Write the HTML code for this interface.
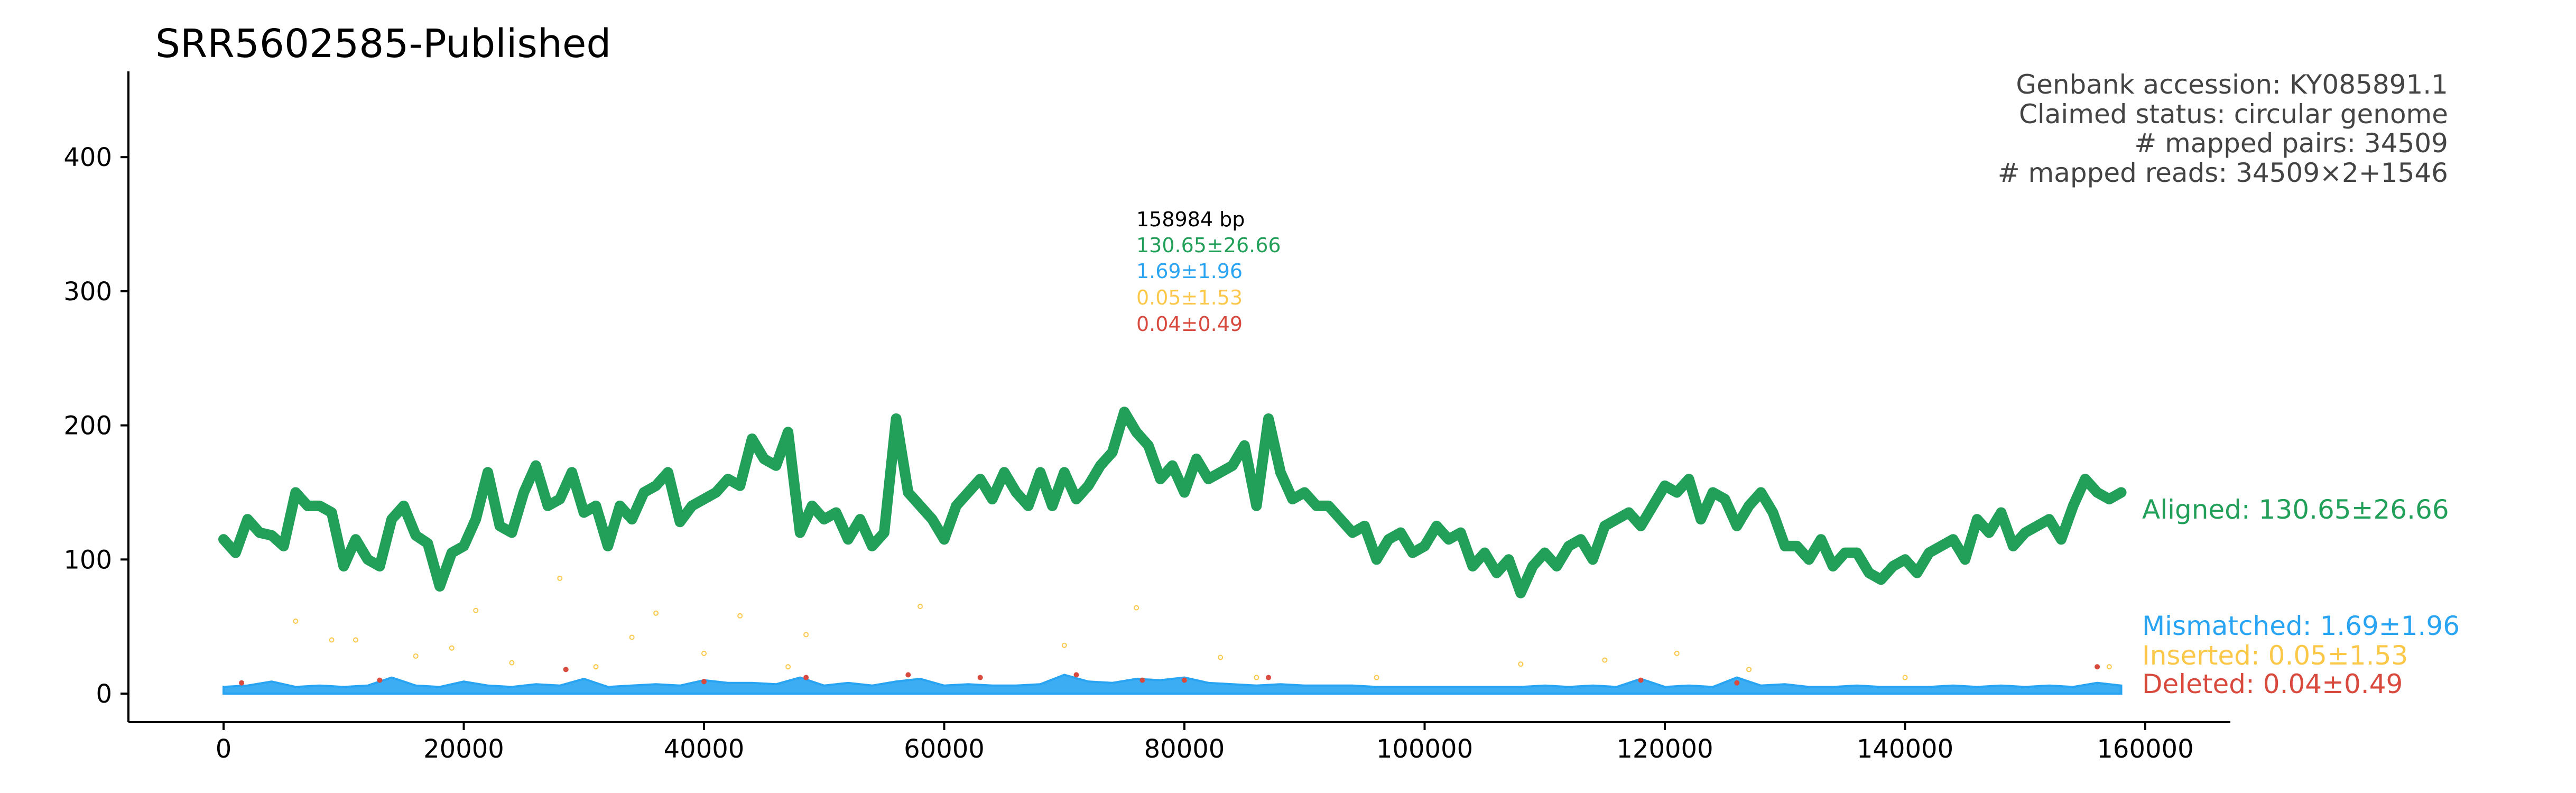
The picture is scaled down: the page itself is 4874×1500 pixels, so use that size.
<!DOCTYPE html>
<html><head><meta charset="utf-8"><style>
html,body{margin:0;padding:0;background:#fff;}
svg{display:block;font-family:"DejaVu Sans","Liberation Sans",sans-serif;}
</style></head><body>
<svg id="chart" width="4874" height="1500" viewBox="0 0 4874 1500" xmlns="http://www.w3.org/2000/svg">
<text x="294" y="108" font-size="74" fill="#000">SRR5602585-Published</text>
<g font-size="50" fill="#444" text-anchor="end">
<text x="4632" y="177">Genbank accession: KY085891.1</text>
<text x="4632" y="233">Claimed status: circular genome</text>
<text x="4632" y="288"># mapped pairs: 34509</text>
<text x="4632" y="344"># mapped reads: 34509×2+1546</text>
</g>
<g font-size="38">
<text x="2150" y="428" fill="#000">158984 bp</text>
<text x="2150" y="477" fill="#22a05a">130.65±26.66</text>
<text x="2150" y="526" fill="#28a4f2">1.69±1.96</text>
<text x="2150" y="576" fill="#fbc84a">0.05±1.53</text>
<text x="2150" y="626" fill="#d94a3e">0.04±0.49</text>
</g>
<g id="axes"></g>
<g id="marks"></g>
<g font-size="50">
<text x="4053" y="981" fill="#22a05a">Aligned: 130.65±26.66</text>
<text x="4053" y="1201" fill="#28a4f2">Mismatched: 1.69±1.96</text>
<text x="4053" y="1257" fill="#fbc84a">Inserted: 0.05±1.53</text>
<text x="4053" y="1311" fill="#d94a3e">Deleted: 0.04±0.49</text>
</g>
</svg>
<script>
const alignedStep = 1000;
const aligned = [115,105,130,120,118,110,150,140,140,135,95,115,100,95,130,140,118,112,80,105,110,130,165,125,120,150,170,140,145,165,135,140,110,140,130,150,155,165,128,140,145,150,160,155,190,175,170,195,120,140,130,135,115,130,110,120,205,150,140,130,115,140,150,160,145,165,150,140,165,140,165,145,155,170,180,210,195,185,160,170,150,175,160,165,170,185,140,205,165,145,150,140,140,130,120,125,100,115,120,105,110,125,115,120,95,105,90,100,75,95,105,95,110,115,100,125,130,135,125,140,155,150,160,130,150,145,125,140,150,135,110,110,100,115,95,105,105,90,85,95,100,90,105,110,115,100,130,120,135,110,120,125,130,115,140,160,150,145,150];
const mismatchStep = 2000;
const mismatched = [5,6,9,5,6,5,6,12,6,5,9,6,5,7,6,11,5,6,7,6,10,8,8,7,12,6,8,6,9,11,6,7,6,6,7,14,9,8,11,10,12,8,7,6,7,6,6,6,5,5,5,5,5,5,5,6,5,6,5,11,5,6,5,12,6,7,5,5,6,5,5,5,6,5,6,5,6,5,8,6];
const insertedX = [6000,9000,11000,16000,19000,21000,24000,28000,31000,34000,36000,40000,43000,47000,48500,58000,70000,76000,83000,86000,96000,108000,115000,121000,127000,140000,157000];
const insertedY = [54,40,40,28,34,62,23,86,20,42,60,30,58,20,44,65,36,64,27,12,12,22,25,30,18,12,20];
const deletedX = [1500,13000,28500,40000,48500,57000,63000,71000,76500,80000,87000,118000,126000,156000];
const deletedY = [8,10,18,9,12,14,12,14,10,10,12,10,8,20];
const xTicks = [0,20000,40000,60000,80000,100000,120000,140000,160000];
const yTicks = [0,100,200,300,400];

const NS='http://www.w3.org/2000/svg';
const xs = v => 423 + v*0.022725;
const ys = v => 1312 - v*2.537;
const axes=document.getElementById('axes'), marks=document.getElementById('marks');
function mk(tag, attrs, parent){const e=document.createElementNS(NS,tag);for(const k in attrs)e.setAttribute(k,attrs[k]);parent.appendChild(e);return e;}

let sp=mk('line',{x1:243,y1:135,x2:243,y2:1366,stroke:'#000','stroke-width':4},axes);


let sp2=mk('line',{x1:243,y1:1366,x2:4220,y2:1366,stroke:'#000','stroke-width':4},axes);


yTicks.forEach(t=>{
  const l=mk('line',{x1:228,x2:243,y1:ys(t),y2:ys(t),stroke:'#000','stroke-width':4},axes);
  
  
  const tx=mk('text',{x:212,y:ys(t)+17,'font-size':48,'text-anchor':'end'},axes);
  
  
  tx.textContent=t;
});
xTicks.forEach(t=>{
  const l=mk('line',{x1:xs(t),x2:xs(t),y1:1366,y2:1381,stroke:'#000','stroke-width':4},axes);
  
  
  const tx=mk('text',{x:xs(t),y:1433,'font-size':48,'text-anchor':'middle'},axes);
  
  
  tx.textContent=t;
});

let d='M'+xs(0)+','+ys(0);
mismatched.forEach((v,i)=>{d+=' L'+xs(i*mismatchStep)+','+ys(v);});
d+=' L'+xs((mismatched.length-1)*mismatchStep)+','+ys(0)+' Z';
const area=mk('path',{d:d,fill:'#28a4f2','fill-opacity':0.9,stroke:'#28a4f2','stroke-width':4},marks);



insertedX.forEach((x,i)=>{
  const c=mk('circle',{cx:xs(x),cy:ys(insertedY[i]),r:4,fill:'none',stroke:'#fbc84a','stroke-width':2},marks);
  
  
});
deletedX.forEach((x,i)=>{
  const c=mk('circle',{cx:xs(x),cy:ys(deletedY[i]),r:4,fill:'#d94a3e',stroke:'#d94a3e','stroke-width':2},marks);
  
  
});

const pts=aligned.map((v,i)=>xs(i*alignedStep)+','+ys(v)).join(' ');
const pl=mk('polyline',{points:pts,fill:'none',stroke:'#22a05a','stroke-width':20,'stroke-linejoin':'round','stroke-linecap':'round'},marks);


</script>
</body></html>
